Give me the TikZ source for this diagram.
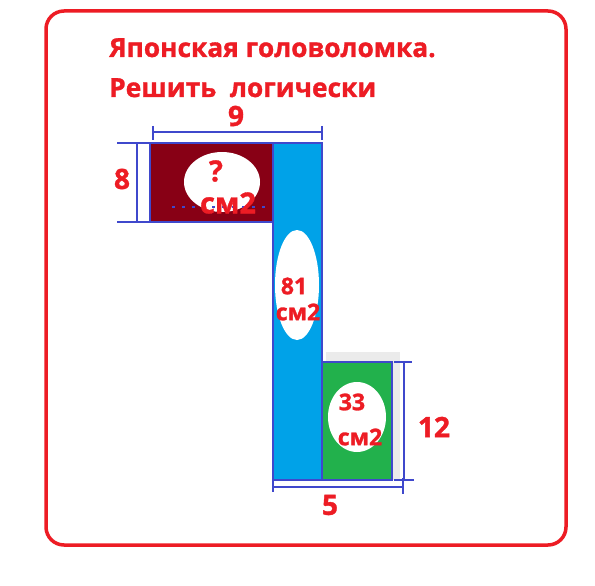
\documentclass[tikz,border=0pt]{standalone}
\usepackage{fontspec}
\setmainfont[BoldFeatures={FakeBold=1.2}]{Open Sans}
\definecolor{myred}{HTML}{ED1C24}
\definecolor{dred}{HTML}{880015}
\definecolor{sky}{HTML}{00A2E8}
\definecolor{grn}{HTML}{22B14C}
\definecolor{dimblue}{HTML}{3F48CC}
\begin{document}
\begin{tikzpicture}[x=1pt,y=-1pt,
  title/.style={text=myred,font=\bfseries\fontsize{26.3}{30}\selectfont,anchor=base west,inner sep=0},
  lbl/.style={text=myred,font=\bfseries\fontsize{28}{30}\selectfont,inner sep=0},
  area/.style={text=myred,font=\bfseries\fontsize{23}{26}\selectfont,inner sep=0},
  bigarea/.style={text=myred,font=\bfseries\fontsize{29}{32}\selectfont,inner sep=0},
  dimline/.style={draw=dimblue,line width=1.6pt}]
\useasboundingbox (0,0) rectangle (595,586);
\fill[white] (0,0) rectangle (595,586);
\draw[myred,line width=3.5pt,rounded corners=18pt] (46,11) rectangle (566,545);
\node[title] (t1) at (109,57) {Японская головоломка.};
\node[title] (t2) at (109,97) {Решить\ \ логически};
% shapes
\fill[black!8] (326,352) rectangle (400,480);
\node[fill=dred,draw=dimblue,line width=1.2pt,minimum width=125pt,minimum height=79pt,inner sep=0] (r1) at (212.5,182.5) {};
\node[fill=sky,draw=dimblue,line width=1.6pt,minimum width=49pt,minimum height=337pt,inner sep=0] (r2) at (297.5,311.5) {};
\node[fill=grn,draw=dimblue,line width=1.6pt,minimum width=70pt,minimum height=118pt,inner sep=0] (r3) at (357,421) {};
% holes
\fill[white] (222,182) ellipse (38 and 30);
\fill[white] (297,285) ellipse (22 and 55);
\fill[white] (357,417) ellipse (29 and 35);
\draw[dimblue,line width=1.4pt,dash pattern=on 3pt off 7pt] (172,207) -- (268,207);
\node[bigarea] (q) at (216,171) {?};
\node[bigarea] (c1) at (228,203) {см2};
\node[area] (a81) at (294,286) {81};
\node[area] (c2) at (298,312) {см2};
\node[area] (a33) at (352,402) {33};
\node[area] (c3) at (360,437) {см2};
% dimension lines
\coordinate (tL) at (153,132); \coordinate (tR) at (322,132);
\draw[dimline] (tL) -- (tR);
\draw[dimline] (153,126) -- (153,140);
\draw[dimline] (322,126) -- (322,140);
\node[lbl] (n9) at (236,116) {9};
\coordinate (lT) at (137,143); \coordinate (lB) at (137,222);
\draw[dimline] (lT) -- (lB);
\draw[dimline] (117,143) -- (152,143);
\draw[dimline] (117,222) -- (152,222);
\node[lbl] (n8) at (122,179) {8};
\coordinate (rT) at (404,362); \coordinate (rB) at (404,480);
\draw[dimline] (rT) -- (rB);
\draw[dimline] (394,362) -- (412,362);
\draw[dimline] (394,480) -- (414,480);
\node[lbl] (n12) at (434,427) {12};
\coordinate (bL) at (273,487); \coordinate (bR) at (403,487);
\draw[dimline] (bL) -- (bR);
\draw[dimline] (273,480) -- (273,492);
\draw[dimline] (403,478) -- (403,494);
\node[lbl] (n5) at (330,505) {5};
\end{tikzpicture}
\end{document}
